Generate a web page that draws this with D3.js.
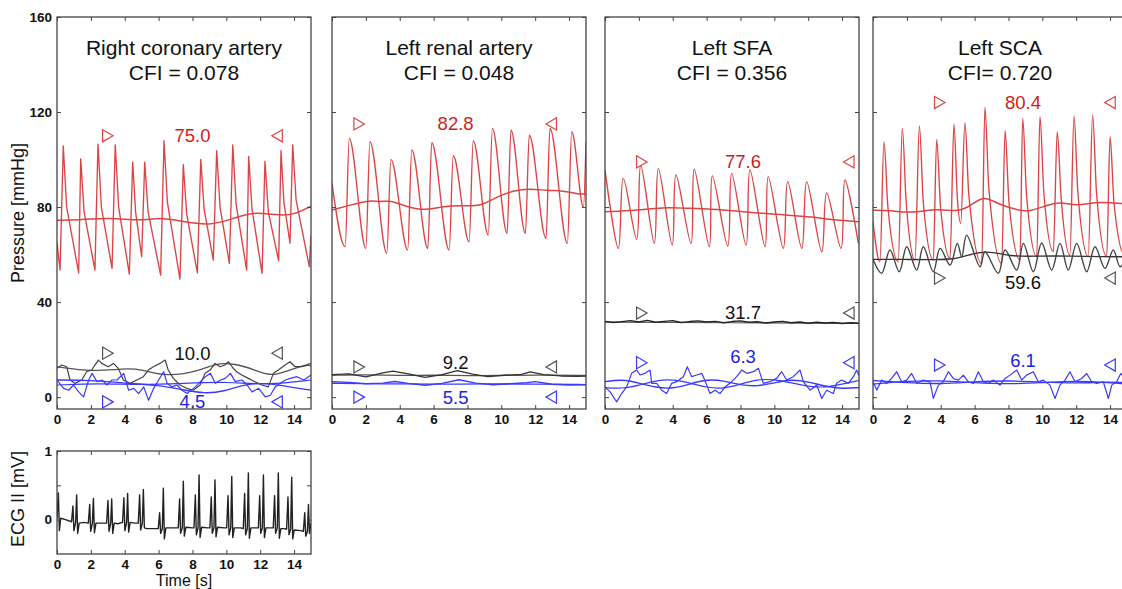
<!DOCTYPE html>
<html><head><meta charset="utf-8">
<script src="https://cdn.jsdelivr.net/npm/d3@7"></script>
<style>
body{margin:0;background:#fff}
text{font-family:"Liberation Sans",Arial,sans-serif}
</style></head>
<body><svg id="c" width="1122" height="589"></svg>
<script>
// ---------------- DATA ----------------
const xTicks = [0,2,4,6,8,10,12,14];
const yTicks = [0,40,80,120,160];
const ecgTicks = [0,0.5,1];
const ecgTickLabels = [0,1];
const titles = ["Right coronary artery","Left renal artery","Left SFA","Left SCA"];
const cfiLabels = ["CFI = 0.078","CFI = 0.048","CFI = 0.356","CFI= 0.720"];

// Panel 1: Right coronary artery
const p1Red = [[0,65],[0.18,53.5],[0.37,105.7],[0.57,80],[1.28,52.3],[1.40,100.3],[1.6,78],[2.24,53.5],[2.42,106.5],[2.62,80],[3.25,54.2],[3.44,106.2],[3.64,80],[4.27,51.8],[4.47,98.9],[4.64,78],[5.0,59.1],[5.18,98.9],[5.38,78],[6.12,51.4],[6.32,107.9],[6.52,82],[7.26,49.7],[7.46,97.8],[7.66,77],[8.29,52.3],[8.49,100.1],[8.69,79],[9.23,57.7],[9.43,103.7],[9.63,80],[10.18,56.3],[10.38,106.2],[10.58,81],[11.2,53.5],[11.32,101.3],[11.52,79],[12.11,52.1],[12.28,99.2],[12.48,78],[13.09,57.4],[13.23,103.7],[13.4,82],[13.76,64.8],[13.92,106.2],[14.12,83],[14.9,54.9],[15,68]];
const p1RedMean = [[0,74.5],[1.16,74.5],[3.13,75.6],[4.9,74.2],[6.08,75.6],[7.26,74.2],[9.04,72],[10.41,75.2],[11.59,78],[12.97,76.6],[13.96,76.6],[15,80.4]];
const p1Black = [[0,12.1],[0.28,13.5],[0.57,12.8],[0.77,7.2],[1.06,5.8],[1.46,7.2],[1.75,10.7],[2.05,11.4],[2.24,13.5],[2.44,15.6],[2.64,14.2],[3.03,12.8],[3.33,14.2],[3.62,12.1],[3.92,7.2],[4.31,5.8],[4.71,7.2],[5.1,8.6],[5.39,11.4],[5.69,12.8],[6.08,14.2],[6.38,15.6],[6.57,11.4],[6.87,7.9],[7.26,5.1],[7.66,3.7],[8.05,2.9],[8.45,5.1],[8.74,10.0],[9.04,11.4],[9.33,14.2],[9.63,12.8],[9.92,13.5],[10.12,14.9],[10.41,12.1],[10.61,10.7],[10.91,9.3],[11.3,7.9],[11.69,6.5],[12.09,5.1],[12.48,4.3],[12.78,10.0],[13.07,11.4],[13.47,13.5],[13.76,14.9],[14.06,12.8],[14.45,12.8],[14.84,13.5],[15,13.0]];
const p1BlackMean = [[0,12.8],[2.07,10.7],[4.0,12.1],[5.0,11.7],[6.4,8.6],[8.3,10.7],[9.3,14.2],[10.5,14.2],[11.7,11.4],[12.7,8.6],[13.7,11.4],[15,14.2]];
const p1Blue = [[0,7.2],[0.39,3.7],[0.69,2.9],[0.98,5.1],[1.28,2.2],[1.57,0.1],[1.87,7.2],[2.07,10.0],[2.36,6.5],[2.66,7.2],[2.95,5.1],[3.25,7.2],[3.54,7.2],[3.94,10.0],[4.23,2.9],[4.53,3.7],[4.82,1.5],[5.12,4.3],[5.41,-1.3],[5.71,3.7],[6.0,7.2],[6.3,10.7],[6.5,5.8],[6.79,4.3],[7.09,5.1],[7.38,2.9],[7.68,1.5],[8.17,4.3],[8.76,8.6],[9.06,10.0],[9.35,5.8],[9.65,7.2],[9.94,7.9],[10.24,10.0],[10.53,6.5],[10.92,7.2],[11.22,5.1],[11.52,2.2],[11.91,3.7],[12.3,0.1],[12.6,0.8],[12.89,4.3],[13.19,5.8],[13.48,7.2],[13.78,7.9],[14.17,8.6],[14.57,7.2],[14.86,8.6],[15,9.3]];
const p1BlueMean = [[0,7.2],[2,7.2],[4,5.8],[6,5.1],[7.5,3.0],[8.7,1.5],[9.8,2.2],[11.2,5.8],[12.5,5.8],[13.7,4.3],[15,2.9]];
const p1BlueMean2 = [[0,5.1],[2.5,5.8],[5,5.1],[7.5,5.8],[10,6.5],[12.5,5.1],[15,7.2]];

// Panel 2: Left renal artery
const p2Red = [[0,90],[0.78,63.3],[1.02,108.9],[2.0,62.6],[2.24,107.5],[3.24,60.5],[3.48,100.1],[4.47,61.9],[4.71,104.0],[5.66,62.6],[5.89,107.1],[6.92,61.9],[7.16,101.6],[8.1,65.4],[8.34,107.9],[9.23,68.2],[9.47,113.1],[10.34,68.9],[10.57,112.4],[11.42,68.9],[11.65,110.3],[12.64,66.8],[12.87,113.1],[13.9,64.7],[14.16,111.7],[14.85,80],[15.0,107.5]];
const p2RedMean = [[0,78.7],[1.06,80.8],[2.24,83],[2.83,82],[3.43,83],[4.41,80],[5.59,78.5],[6.38,80.2],[7.76,80.8],[8.74,80.2],[9.73,84.3],[10.71,86.9],[11.69,87.8],[12.68,86.9],[13.66,86.9],[14.45,85.5],[15,85.5]];
const p2Black = [[0,9.5],[1,9.8],[2,8.5],[3,10.2],[3.6,10.9],[4.5,9.8],[5.5,8.3],[6.5,9.5],[7.4,11.2],[8.3,9.7],[9.2,8.6],[10.2,9.2],[11.2,9.6],[11.7,10.6],[12.5,9.5],[13.5,8.9],[14.5,8.7],[15,8.8]];
const p2BlackMean = [[0,9.2],[2,9.5],[4,9],[6,9.3],[8,9],[10,9.2],[12,9.3],[15,9.1]];
const p2Blue = [[0,6.5],[1,6.2],[2,5.6],[3,5.9],[3.7,6.6],[4.5,5.8],[5.5,5],[6.5,5.8],[7.5,7.3],[8.5,5.9],[9.5,5.2],[10.5,5.6],[11.5,6.1],[12,6.5],[13,5.4],[14,5.1],[15,5.2]];
const p2BlueMean = [[0,5.8],[3,5.6],[6,5.4],[9,5.6],[12,5.5],[15,5.3]];

// Panel 3: Left SFA
const p3Red = [[0,95.6],[0.79,62.6],[1.08,92.1],[1.87,66.4],[2.11,97.7],[2.91,64.7],[3.15,96.3],[3.97,64.0],[4.19,93.5],[5.08,64.7],[5.27,95.9],[6.16,63.3],[6.34,93.1],[7.25,63.6],[7.48,94.2],[8.33,64.0],[8.56,95.6],[9.45,63.3],[9.64,92.8],[10.53,62.6],[10.79,90.7],[11.62,62.6],[11.91,90.7],[12.8,61.2],[13.09,86.0],[13.94,62.6],[14.17,91.4],[14.96,64.7]];
const p3RedMean = [[0,78],[1.97,78.7],[3.35,79.9],[4.92,79.5],[6.3,79.2],[7.68,78.4],[9.25,77.3],[10.83,76.6],[12.2,75.9],[13.58,74.5],[15,73.8]];
const p3Black = [[0,31.9],[0.5,31.4],[1,31.8],[1.5,32.2],[2,31.6],[2.5,32.3],[3,31.5],[3.5,31.9],[4,32.2],[4.5,31.4],[5,31.8],[5.5,32.1],[6,31.6],[6.5,31.9],[7,31.3],[7.5,31.8],[8,32.1],[8.5,31.5],[9,31.7],[9.5,31.2],[10,31.6],[10.5,31.9],[11,31.3],[11.5,31.6],[12,31.1],[12.5,31.5],[13,31.2],[13.5,31.4],[14,31.0],[14.5,31.3],[15,31.1]];
const p3BlackMean = [[0,31.6],[7.5,31.3],[15,31.0]];
const p3Blue = [[0,4.3],[0.3,2.2],[0.69,-2.0],[0.98,1.5],[1.28,4.3],[1.57,10.0],[1.87,11.4],[2.07,9.3],[2.36,10.0],[2.66,11.4],[2.76,5.8],[3.05,5.8],[3.35,2.9],[3.64,1.5],[3.94,5.8],[4.23,6.5],[4.63,8.6],[4.86,12.8],[5.12,8.6],[5.42,9.3],[5.71,10.0],[5.97,5.8],[6.2,1.5],[6.5,2.9],[6.79,1.5],[7.09,4.3],[7.48,6.5],[7.78,8.6],[8.07,11.4],[8.37,10.0],[8.76,10.7],[9.06,12.1],[9.35,5.8],[9.75,6.5],[10.14,7.9],[10.43,10.7],[10.73,7.2],[11.12,8.6],[11.52,11.4],[11.71,6.5],[12.11,2.9],[12.5,5.1],[12.8,-0.6],[13.09,2.9],[13.48,1.5],[13.68,5.8],[13.98,7.2],[14.37,5.8],[14.67,8.6],[14.86,11.4],[15,9]];
const p3BlueMean = [[0,6.5],[1,7.5],[2,6],[3,4],[4,3.5],[5,5.5],[6,7.5],[7,7],[8,5],[9,4.5],[10,6],[11,7.5],[12,6.5],[13,4.5],[14,3.5],[15,4]];
const p3BlueMean2 = [[0,4],[1,3.5],[2,5],[3,7],[4,7.5],[5,6],[6,4],[7,3.5],[8,5.5],[9,7.5],[10,7.5],[11,6],[12,4.5],[13,4],[14,5.5],[15,7]];

// Panel 4: Left SCA
const p4Red = [[0,73.8],[0.41,57.0],[0.65,107.5],[0.88,80],[1.49,57.0],[1.73,113.1],[1.96,82],[2.48,57.7],[2.74,114.1],[2.97,82],[3.56,57.7],[3.76,108.5],[3.99,80],[4.55,58.4],[4.78,114.9],[4.98,84],[5.18,73.1],[5.43,115.5],[5.66,85],[6.42,56.3],[6.61,122.0],[6.84,88],[7.6,56.3],[7.8,112.1],[8.03,82],[8.68,57.7],[8.84,117.3],[9.07,85],[9.67,59.1],[9.86,118.0],[10.09,86],[10.65,61.2],[10.88,111.7],[11.11,84],[11.63,59.8],[11.87,118.3],[12.1,86],[12.71,59.1],[12.97,118.7],[13.2,86],[13.8,59.1],[14.0,109.6],[14.23,82],[14.85,60],[15,90]];
const p4RedMean = [[0,78.7],[1.0,78.7],[2.19,77.3],[3.76,79.4],[4.94,78],[5.73,80.1],[6.51,85],[7.31,81.5],[8.49,78.7],[9.27,78],[10.26,80.8],[11.04,82.2],[12.03,80.4],[13.21,82.2],[14.0,81.8],[15,81.3]];
const p4Black = [[0,58],[0.51,52.1],[1.0,61.9],[1.55,52.8],[1.99,63.3],[2.58,53.5],[2.97,63.3],[3.56,52.8],[3.96,62.6],[4.55,55.6],[4.98,64.7],[5.24,59],[5.53,68.2],[6.32,54.9],[6.61,61.2],[7.4,52.1],[7.8,61.9],[8.49,53.5],[8.88,64.7],[9.47,52.8],[9.96,64.9],[10.55,53.5],[11.04,64.7],[11.53,53.5],[12.03,64.7],[12.62,52.8],[13.11,63.3],[13.7,54.2],[14.19,61.9],[14.59,54.9],[15,60]];
const p4BlackMean = [[0,58],[1.78,58],[3.76,57.8],[4.74,58],[5.5,59.5],[6.71,61.9],[8.1,59.1],[9.66,59.4],[11.63,59.4],[13.6,59.1],[15,59.1]];
const p4Blue = [[0,6.45],[0.22,2.95],[0.51,7.16],[0.81,5.75],[1.1,7.86],[1.4,10.7],[1.69,6.45],[1.99,7.16],[2.28,9.96],[2.58,5.75],[2.97,7.16],[3.37,6.45],[3.56,-0.56],[3.86,5.05],[4.15,6.45],[4.45,10.7],[4.74,7.86],[5.04,7.16],[5.34,9.26],[5.63,6.45],[5.93,5.75],[6.22,10.7],[6.52,6.45],[6.81,5.75],[7.11,7.16],[7.5,5.05],[7.8,7.86],[8.09,9.26],[8.49,11.4],[8.78,7.16],[9.07,9.26],[9.47,10.7],[9.76,6.45],[10.06,7.16],[10.45,5.05],[10.75,-0.56],[11.04,5.05],[11.34,7.16],[11.63,10.7],[11.93,6.45],[12.32,7.86],[12.62,9.96],[12.91,6.45],[13.21,5.75],[13.6,6.45],[13.9,-0.56],[14.1,5.05],[14.39,6.45],[14.63,9.96],[15,7]];
const p4BlueMean = [[0,7],[2,6],[4,5.5],[6,6.5],[8,7],[10,6.3],[12,5.8],[14,6.5],[15,6]];
const p4BlueMean2 = [[0,5.5],[2,6.8],[4,7],[6,6],[8,5.5],[10,6],[12,7],[14,6],[15,5.5]];

// Annotations: [tRightMarker, tLeftMarker, markerValue, label, tLabel, labelValue]
const p1Marks = {red:[2.9,13.1,110,"75.0",8.0,110], black:[2.9,13.1,18.5,"10.0",8.0,18.5], blue:[2.9,13.1,-2,"4.5",8.0,-2]};
const p2Marks = {red:[1.5,13.05,115,"82.8",7.3,115], black:[1.5,13.05,12.7,"9.2",7.3,14.7], blue:[1.5,13.05,0,"5.5",7.3,0]};
const p3Marks = {red:[2.07,14.5,99,"77.6",8.15,99], black:[2.07,14.5,35.4,"31.7",8.15,35.8], blue:[2.07,14.5,14.5,"6.3",8.15,17]};
const p4Marks = {red:[3.84,14.1,124,"80.4",8.86,124], black:[3.84,14.1,50.1,"59.6",8.86,48.4], blue:[3.84,14.1,13.5,"6.1",8.86,15.6]};

// ECG II [mV]
const ecg = [[0,0.02],[0.08,0.39],[0.14,-0.16],[0.22,0.02],[0.5,0.0],
[0.86,-0.03],[0.94,0.20],[1.0,-0.16],[1.1,-0.04],[1.16,0.36],[1.22,-0.2],[1.31,-0.05],[1.6,-0.04],
[1.85,-0.05],[1.93,0.22],[1.99,-0.17],[2.09,-0.05],[2.15,0.31],[2.21,-0.19],[2.3,-0.05],[2.7,-0.05],
[2.93,-0.05],[3.01,0.28],[3.07,-0.17],[3.17,-0.05],[3.23,0.30],[3.29,-0.2],[3.38,-0.05],[3.6,-0.06],
[3.87,-0.04],[3.95,0.32],[4.01,-0.16],[4.11,-0.04],[4.17,0.38],[4.23,-0.18],[4.32,-0.04],[4.6,-0.05],
[4.8,-0.05],[4.88,0.36],[4.94,-0.15],[5.04,-0.05],[5.1,0.44],[5.16,-0.12],[5.3,-0.13],[5.8,-0.13],
[5.98,-0.13],[6.06,0.10],[6.12,-0.2],[6.22,-0.13],[6.28,0.46],[6.34,-0.28],[6.43,-0.12],[6.9,-0.12],
[7.16,-0.12],[7.24,0.30],[7.3,-0.2],[7.4,-0.12],[7.46,0.56],[7.52,-0.24],[7.61,-0.11],[8.0,-0.12],
[8.09,-0.12],[8.17,0.36],[8.23,-0.22],[8.33,-0.12],[8.39,0.65],[8.45,-0.26],[8.54,-0.11],[8.9,-0.12],
[9.03,-0.12],[9.11,0.33],[9.17,-0.2],[9.27,-0.12],[9.33,0.58],[9.39,-0.25],[9.48,-0.11],[9.9,-0.12],
[10.02,-0.12],[10.1,0.35],[10.16,-0.22],[10.26,-0.12],[10.32,0.63],[10.38,-0.26],[10.47,-0.12],[10.85,-0.12],
[11.0,-0.13],[11.08,0.38],[11.14,-0.22],[11.24,-0.13],[11.3,0.68],[11.36,-0.27],[11.45,-0.12],[11.8,-0.12],
[11.89,-0.12],[11.97,0.35],[12.03,-0.2],[12.13,-0.12],[12.19,0.65],[12.25,-0.26],[12.34,-0.12],[12.7,-0.12],
[12.77,-0.12],[12.85,0.35],[12.91,-0.2],[13.01,-0.12],[13.07,0.68],[13.13,-0.27],[13.22,-0.13],[13.45,-0.13],
[13.56,-0.14],[13.64,0.33],[13.7,-0.22],[13.8,-0.14],[13.86,0.62],[13.92,-0.28],[14.01,-0.15],[14.4,-0.16],
[14.55,-0.17],[14.63,0.1],[14.69,-0.24],[14.79,-0.17],[14.85,0.22],[14.91,-0.2],[15,-0.05]];

// ---------------- DRAWING ----------------
const RED="#dc4444", RED_T="#d01c1c", BLUE="#3a3aff", BLUE_T="#1e1ee6", BLK="#333", BLK_T="#111";
const svg = d3.select("#c");
const panelLeft=[57,332,605,873], PW=254, PT=17, PB=409;
const yP = d3.scaleLinear().domain([-5,160]).range([PB,PT]);

const panels = [
  {series:[[p1RedMean,RED,1.5,d3.curveBasis],[p1Red,RED,1.35,d3.curveLinear],[p1BlackMean,"#555",1.3,d3.curveBasis],[p1Black,"#444",1.2,d3.curveLinear],[p1BlueMean,BLUE,1.3,d3.curveBasis],[p1BlueMean2,BLUE,1.2,d3.curveBasis],[p1Blue,BLUE,1.2,d3.curveLinear]], marks:p1Marks},
  {series:[[p2RedMean,RED,1.5,d3.curveBasis],[p2Red,RED,1.35,d3.curveMonotoneX],[p2BlackMean,"#555",1.3,d3.curveBasis],[p2Black,BLK,1.3,d3.curveLinear],[p2BlueMean,BLUE,1.3,d3.curveBasis],[p2Blue,BLUE,1.4,d3.curveLinear]], marks:p2Marks},
  {series:[[p3RedMean,RED,1.5,d3.curveBasis],[p3Red,RED,1.35,d3.curveCatmullRom],[p3BlackMean,"#555",1.2,d3.curveLinear],[p3Black,"#222",1.4,d3.curveLinear],[p3BlueMean,BLUE,1.4,d3.curveBasis],[p3BlueMean2,BLUE,1.2,d3.curveBasis],[p3Blue,BLUE,1.2,d3.curveLinear]], marks:p3Marks},
  {series:[[p4RedMean,RED,1.5,d3.curveBasis],[p4Red,RED,1.35,d3.curveMonotoneX],[p4BlackMean,"#333",1.4,d3.curveBasis],[p4Black,"#444",1.4,d3.curveCatmullRom],[p4BlueMean,BLUE,1.4,d3.curveBasis],[p4BlueMean2,BLUE,1.2,d3.curveBasis],[p4Blue,BLUE,1.2,d3.curveLinear]], marks:p4Marks}
];

function styleAxis(g){
  g.select(".domain").remove();
  g.selectAll(".tick line").attr("stroke","#444");
  g.selectAll(".tick text").attr("fill","#111").attr("font-size",13.5).attr("font-weight","bold");
}

panels.forEach((p,i)=>{
  const x = d3.scaleLinear().domain([0,15]).range([panelLeft[i],panelLeft[i]+PW]);
  const g = svg.append("g");
  g.append("clipPath").attr("id","cp"+i).append("rect")
    .attr("x",panelLeft[i]).attr("y",PT).attr("width",PW).attr("height",PB-PT);
  const lg = g.append("g").attr("clip-path",`url(#cp${i})`);
  p.series.forEach(([data,col,w,curve])=>{
    lg.append("path").datum(data)
      .attr("d",d3.line().x(d=>x(d[0])).y(d=>yP(d[1])).curve(curve))
      .attr("fill","none").attr("stroke",col).attr("stroke-width",w).attr("stroke-linejoin","round");
  });
  const cols = {red:[RED,RED_T],black:["#555",BLK_T],blue:[BLUE,BLUE_T]};
  Object.entries(p.marks).forEach(([k,m])=>{
    const [tR,tL,v,lab,tx,tv]=m;
    const [lc,tc]=cols[k];
    g.append("path").attr("d",d3.symbol().type(d3.symbolTriangle).size(64)())
      .attr("transform",`translate(${x(tR)},${yP(v)}) rotate(90)`)
      .attr("fill","#fff").attr("stroke",lc).attr("stroke-width",1.2);
    g.append("path").attr("d",d3.symbol().type(d3.symbolTriangle).size(64)())
      .attr("transform",`translate(${x(tL)},${yP(v)}) rotate(-90)`)
      .attr("fill","#fff").attr("stroke",lc).attr("stroke-width",1.2);
    g.append("text").attr("x",x(tx)).attr("y",yP(tv)).attr("text-anchor","middle")
      .attr("dominant-baseline","central").attr("font-size",18.5).attr("fill",tc).text(lab);
  });
  g.append("text").attr("x",panelLeft[i]+PW/2).attr("y",55).attr("text-anchor","middle")
    .attr("font-size",21).attr("fill","#111").text(titles[i]);
  g.append("text").attr("x",panelLeft[i]+PW/2).attr("y",80).attr("text-anchor","middle")
    .attr("font-size",21).attr("fill","#111").text(cfiLabels[i]);
  g.append("g").attr("transform",`translate(0,${PB})`)
    .call(d3.axisBottom(x).tickValues(xTicks).tickSizeInner(-4).tickSizeOuter(0).tickPadding(5)).call(styleAxis);
  g.append("g").attr("transform",`translate(0,${PT})`)
    .call(d3.axisTop(x).tickValues(xTicks).tickSizeInner(-4).tickSizeOuter(0).tickFormat("")).call(styleAxis);
  g.append("g").attr("transform",`translate(${panelLeft[i]},0)`)
    .call(d3.axisLeft(yP).tickValues(yTicks).tickSizeInner(-4).tickSizeOuter(0).tickPadding(5).tickFormat(i===0?d3.format("d"):"")).call(styleAxis);
  g.append("g").attr("transform",`translate(${panelLeft[i]+PW},0)`)
    .call(d3.axisRight(yP).tickValues(yTicks).tickSizeInner(-4).tickSizeOuter(0).tickFormat("")).call(styleAxis);
  g.append("rect").attr("x",panelLeft[i]).attr("y",PT).attr("width",PW).attr("height",PB-PT)
    .attr("fill","none").attr("stroke","#444").attr("stroke-width",1.3);
});

svg.append("text").attr("transform","translate(24,213) rotate(-90)").attr("text-anchor","middle")
  .attr("font-size",18).attr("fill","#111").text("Pressure [mmHg]");

// ECG panel
const EL=57, ET=451, EB=554;
const xE = d3.scaleLinear().domain([0,15]).range([EL,EL+PW]);
const yE = d3.scaleLinear().domain([-0.5,1]).range([EB,ET]);
const ge = svg.append("g");
ge.append("clipPath").attr("id","cpe").append("rect").attr("x",EL).attr("y",ET).attr("width",PW).attr("height",EB-ET);
ge.append("g").attr("clip-path","url(#cpe)").append("path").datum(ecg)
  .attr("d",d3.line().x(d=>xE(d[0])).y(d=>yE(d[1])))
  .attr("fill","none").attr("stroke","#222").attr("stroke-width",1.4).attr("stroke-linejoin","round");
ge.append("g").attr("transform",`translate(0,${EB})`)
  .call(d3.axisBottom(xE).tickValues(xTicks).tickSizeInner(-4).tickSizeOuter(0).tickPadding(5)).call(styleAxis);
ge.append("g").attr("transform",`translate(0,${ET})`)
  .call(d3.axisTop(xE).tickValues(xTicks).tickSizeInner(-4).tickSizeOuter(0).tickFormat("")).call(styleAxis);
ge.append("g").attr("transform",`translate(${EL},0)`)
  .call(d3.axisLeft(yE).tickValues(ecgTicks).tickSizeInner(-4).tickSizeOuter(0).tickPadding(5)
    .tickFormat(d=>ecgTickLabels.includes(d)?d3.format("d")(d):"")).call(styleAxis);
ge.append("g").attr("transform",`translate(${EL+PW},0)`)
  .call(d3.axisRight(yE).tickValues(ecgTicks).tickSizeInner(-4).tickSizeOuter(0).tickFormat("")).call(styleAxis);
ge.append("rect").attr("x",EL).attr("y",ET).attr("width",PW).attr("height",EB-ET)
  .attr("fill","none").attr("stroke","#444").attr("stroke-width",1.3);
svg.append("text").attr("transform","translate(24,499) rotate(-90)").attr("text-anchor","middle")
  .attr("font-size",18).attr("fill","#111").text("ECG II [mV]");
svg.append("text").attr("x",184).attr("y",586).attr("text-anchor","middle")
  .attr("font-size",16).attr("fill","#111").text("Time [s]");
</script></body></html>
